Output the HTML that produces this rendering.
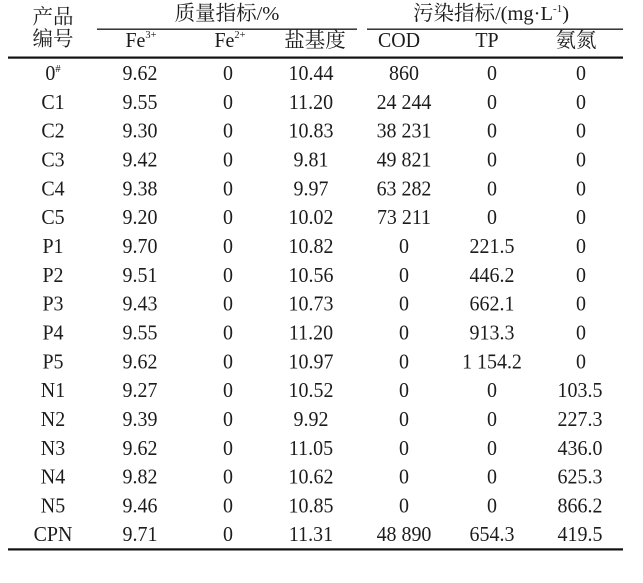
<!DOCTYPE html>
<html>
<head>
<meta charset="utf-8">
<style>
html,body{margin:0;padding:0;background:#fff;}
svg{display:block;}
.t text{font-family:"Liberation Serif","Noto Serif CJK SC",serif;font-size:21px;fill:#1c1c1c;transform-box:fill-box;transform-origin:center;transform:scaleX(0.95);}
.c text{font-family:"Liberation Serif","Noto Serif CJK SC",serif;font-size:20.5px;fill:#1c1c1c;}
.s{font-size:11px;}
</style>
</head>
<body>
<svg width="643" height="583" viewBox="0 0 643 583" xmlns="http://www.w3.org/2000/svg">
<rect width="643" height="583" fill="#fff"/>
<rect x="97" y="28.5" width="260" height="1.4" fill="#222"/>
<rect x="367" y="28.5" width="256" height="1.4" fill="#222"/>
<rect x="8" y="56.5" width="615" height="2.2" fill="#111"/>
<rect x="8" y="548.3" width="615" height="2.2" fill="#111"/>

<g class="c" text-anchor="middle">
<text x="53" y="23.5">产品</text>
<text x="53" y="45.5">编号</text>
<text x="227" y="20">质量指标/%</text>
<text x="491" y="20">污染指标/(mg·L<tspan class="s" dy="-8">-1</tspan><tspan dy="8">)</tspan></text>
<text x="315" y="47">盐基度</text>
<text x="576" y="47">氨氮</text>
</g>
<g class="t" text-anchor="middle">
<text x="141" y="47">Fe<tspan class="s" dy="-9">3+</tspan></text>
<text x="230" y="47">Fe<tspan class="s" dy="-9">2+</tspan></text>
<text x="399" y="47">COD</text>
<text x="487" y="47">TP</text>
</g>

<g class="t" text-anchor="middle">
<text x="53" y="80">0<tspan class="s" dy="-8">#</tspan></text>
<text x="140" y="80">9.62</text><text x="228" y="80">0</text><text x="311" y="80">10.44</text><text x="404" y="80">860</text><text x="492" y="80">0</text><text x="581" y="80">0</text>

<text x="53" y="108.8">C1</text><text x="140" y="108.8">9.55</text><text x="228" y="108.8">0</text><text x="311" y="108.8">11.20</text><text x="404" y="108.8">24 244</text><text x="492" y="108.8">0</text><text x="581" y="108.8">0</text>

<text x="53" y="137.7">C2</text><text x="140" y="137.7">9.30</text><text x="228" y="137.7">0</text><text x="311" y="137.7">10.83</text><text x="404" y="137.7">38 231</text><text x="492" y="137.7">0</text><text x="581" y="137.7">0</text>

<text x="53" y="166.5">C3</text><text x="140" y="166.5">9.42</text><text x="228" y="166.5">0</text><text x="311" y="166.5">9.81</text><text x="404" y="166.5">49 821</text><text x="492" y="166.5">0</text><text x="581" y="166.5">0</text>

<text x="53" y="195.3">C4</text><text x="140" y="195.3">9.38</text><text x="228" y="195.3">0</text><text x="311" y="195.3">9.97</text><text x="404" y="195.3">63 282</text><text x="492" y="195.3">0</text><text x="581" y="195.3">0</text>

<text x="53" y="224.2">C5</text><text x="140" y="224.2">9.20</text><text x="228" y="224.2">0</text><text x="311" y="224.2">10.02</text><text x="404" y="224.2">73 211</text><text x="492" y="224.2">0</text><text x="581" y="224.2">0</text>

<text x="53" y="253">P1</text><text x="140" y="253">9.70</text><text x="228" y="253">0</text><text x="311" y="253">10.82</text><text x="404" y="253">0</text><text x="492" y="253">221.5</text><text x="581" y="253">0</text>

<text x="53" y="281.8">P2</text><text x="140" y="281.8">9.51</text><text x="228" y="281.8">0</text><text x="311" y="281.8">10.56</text><text x="404" y="281.8">0</text><text x="492" y="281.8">446.2</text><text x="581" y="281.8">0</text>

<text x="53" y="310.6">P3</text><text x="140" y="310.6">9.43</text><text x="228" y="310.6">0</text><text x="311" y="310.6">10.73</text><text x="404" y="310.6">0</text><text x="492" y="310.6">662.1</text><text x="581" y="310.6">0</text>

<text x="53" y="339.5">P4</text><text x="140" y="339.5">9.55</text><text x="228" y="339.5">0</text><text x="311" y="339.5">11.20</text><text x="404" y="339.5">0</text><text x="492" y="339.5">913.3</text><text x="581" y="339.5">0</text>

<text x="53" y="368.3">P5</text><text x="140" y="368.3">9.62</text><text x="228" y="368.3">0</text><text x="311" y="368.3">10.97</text><text x="404" y="368.3">0</text><text x="492" y="368.3">1 154.2</text><text x="581" y="368.3">0</text>

<text x="53" y="397.1">N1</text><text x="140" y="397.1">9.27</text><text x="228" y="397.1">0</text><text x="311" y="397.1">10.52</text><text x="404" y="397.1">0</text><text x="492" y="397.1">0</text><text x="580" y="397.1">103.5</text>

<text x="53" y="426">N2</text><text x="140" y="426">9.39</text><text x="228" y="426">0</text><text x="311" y="426">9.92</text><text x="404" y="426">0</text><text x="492" y="426">0</text><text x="580" y="426">227.3</text>

<text x="53" y="454.8">N3</text><text x="140" y="454.8">9.62</text><text x="228" y="454.8">0</text><text x="311" y="454.8">11.05</text><text x="404" y="454.8">0</text><text x="492" y="454.8">0</text><text x="580" y="454.8">436.0</text>

<text x="53" y="483.6">N4</text><text x="140" y="483.6">9.82</text><text x="228" y="483.6">0</text><text x="311" y="483.6">10.62</text><text x="404" y="483.6">0</text><text x="492" y="483.6">0</text><text x="580" y="483.6">625.3</text>

<text x="53" y="512.5">N5</text><text x="140" y="512.5">9.46</text><text x="228" y="512.5">0</text><text x="311" y="512.5">10.85</text><text x="404" y="512.5">0</text><text x="492" y="512.5">0</text><text x="580" y="512.5">866.2</text>

<text x="53" y="541">CPN</text><text x="140" y="541">9.71</text><text x="228" y="541">0</text><text x="311" y="541">11.31</text><text x="404" y="541">48 890</text><text x="492" y="541">654.3</text><text x="580" y="541">419.5</text>
</g>
</svg>
</body>
</html>
